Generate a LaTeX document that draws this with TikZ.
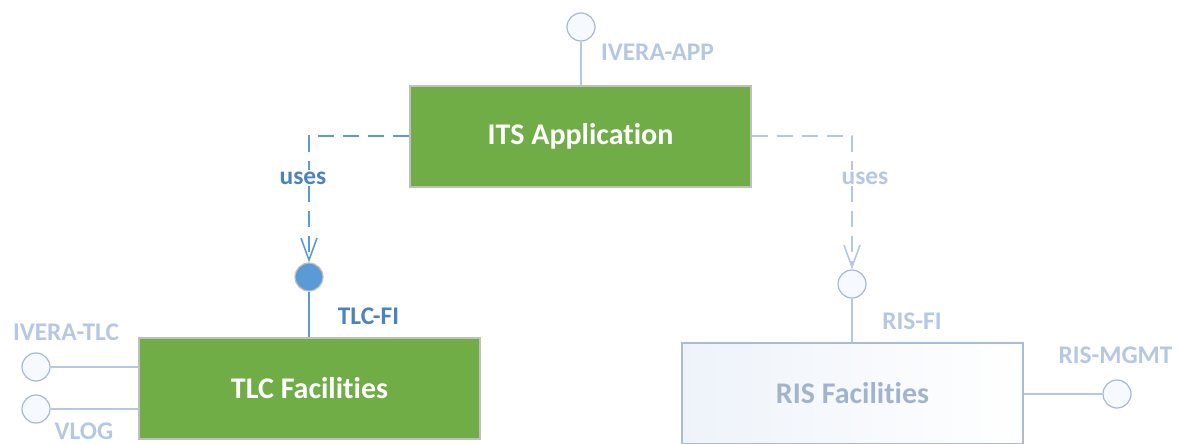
\documentclass[tikz,border=0pt]{standalone}
\usepackage{fontspec}
\setmainfont{Carlito}[Ligatures=NoCommon, Contextuals=NoAlternate]
\usetikzlibrary{arrows.meta}

\definecolor{appgreen}{HTML}{70AD47}
\definecolor{boxgrey}{HTML}{BFBFBF}
\definecolor{usedark}{HTML}{5B9BD5}
\definecolor{usetext}{HTML}{4A83BF}
\definecolor{fadeline}{HTML}{B4C7E7}
\definecolor{fadetext}{HTML}{B4C8E6}
\definecolor{portgrey}{HTML}{A6B8D2}
\definecolor{portfill}{HTML}{F6F9FD}
\definecolor{risline}{HTML}{A9BCD6}
\definecolor{risfill}{HTML}{EEF3FA}
\definecolor{ristext}{HTML}{A2B4CC}
\newcommand{\usecol}{usetext}
\newcommand{\fadecol}{fadetext}

\tikzset{
  block/.style={draw=boxgrey, line width=0.75pt, fill=appgreen, text=white,
    font=\bfseries\fontsize{15}{18}\selectfont,
    minimum width=170.5pt, minimum height=50.5pt, inner sep=0pt},
  ghostblock/.style={block, draw=risline, left color=risfill, right color=white,
    text=ristext},
  port/.style={circle, draw=portgrey, fill=portfill, line width=0.6pt,
    minimum size=14pt, inner sep=0pt},
  usedport/.style={port, draw=black!25, fill=usedark},
  lbl/.style={font=\bfseries\fontsize{12.7}{15}\selectfont, inner sep=1pt},
  solidlink/.style={draw=usedark, line width=1pt},
  fadelink/.style={draw=fadeline, line width=1pt},
  useslink/.style={line width=1pt, dash pattern=on 8pt off 4.5pt,
    -{Straight Barb[length=11pt, width=8pt, line width=0.8pt]}},
}

\begin{document}
\begin{tikzpicture}[x=0.5pt, y=-0.5pt]

    \useasboundingbox (0, 0) rectangle (1180, 444);

    % blocks
    \node[block] (its) at (580.5, 136.5) {ITS Application};
    \node[block] (tlc) at (309.5, 388.5) {TLC Facilities};
    \node[ghostblock] (ris) at (852.5, 393.5) {RIS Facilities};

    % ports
    \node[port] (iveraapp) at (581, 27) {};
    \node[usedport] (tlcfi) at (309, 277) {};
    \node[port] (risfi) at (852, 284) {};
    \node[port] (iveratlc) at (36, 367) {};
    \node[port] (vlog) at (36, 409) {};
    \node[port] (rismgmt) at (1117, 394) {};

    % port stems
    \draw[fadelink] (iveraapp.south) -- (iveraapp.south |- its.north);
    \draw[solidlink] (tlcfi.south) -- (tlcfi.south |- tlc.north);
    \draw[fadelink] (risfi.south) -- (risfi.south |- ris.north);
    \draw[fadelink] (iveratlc.east) -- (iveratlc.east -| tlc.west);
    \draw[fadelink] (vlog.east) -- (vlog.east -| tlc.west);
    \draw[fadelink] (rismgmt.west) -- (rismgmt.west -| ris.east);

    % dependencies
    \draw[useslink, draw=usedark] (its.west) -| (tlcfi);
    \draw[useslink, draw=fadeline] (its.east) -| (risfi);

    % labels
    \node[lbl, \usecol, fill=white] (uses1) at (303, 178) {uses};
    \node[lbl, \fadecol, fill=white] (uses2) at (865, 178) {uses};
    \node[lbl, \fadecol] (lapp) at (657.5, 52) {IVERA-APP};
    \node[lbl, \usecol] (ltlcfi) at (368.5, 316) {TLC-FI};
    \node[lbl, \fadecol] (lrisfi) at (912, 321) {RIS-FI};
    \node[lbl, \fadecol] (ltlc) at (66, 332) {IVERA-TLC};
    \node[lbl, \fadecol] (lvlog) at (84, 431) {VLOG};
    \node[lbl, \fadecol] (lmgmt) at (1115.5, 355) {RIS-MGMT};

\end{tikzpicture}
\end{document}
